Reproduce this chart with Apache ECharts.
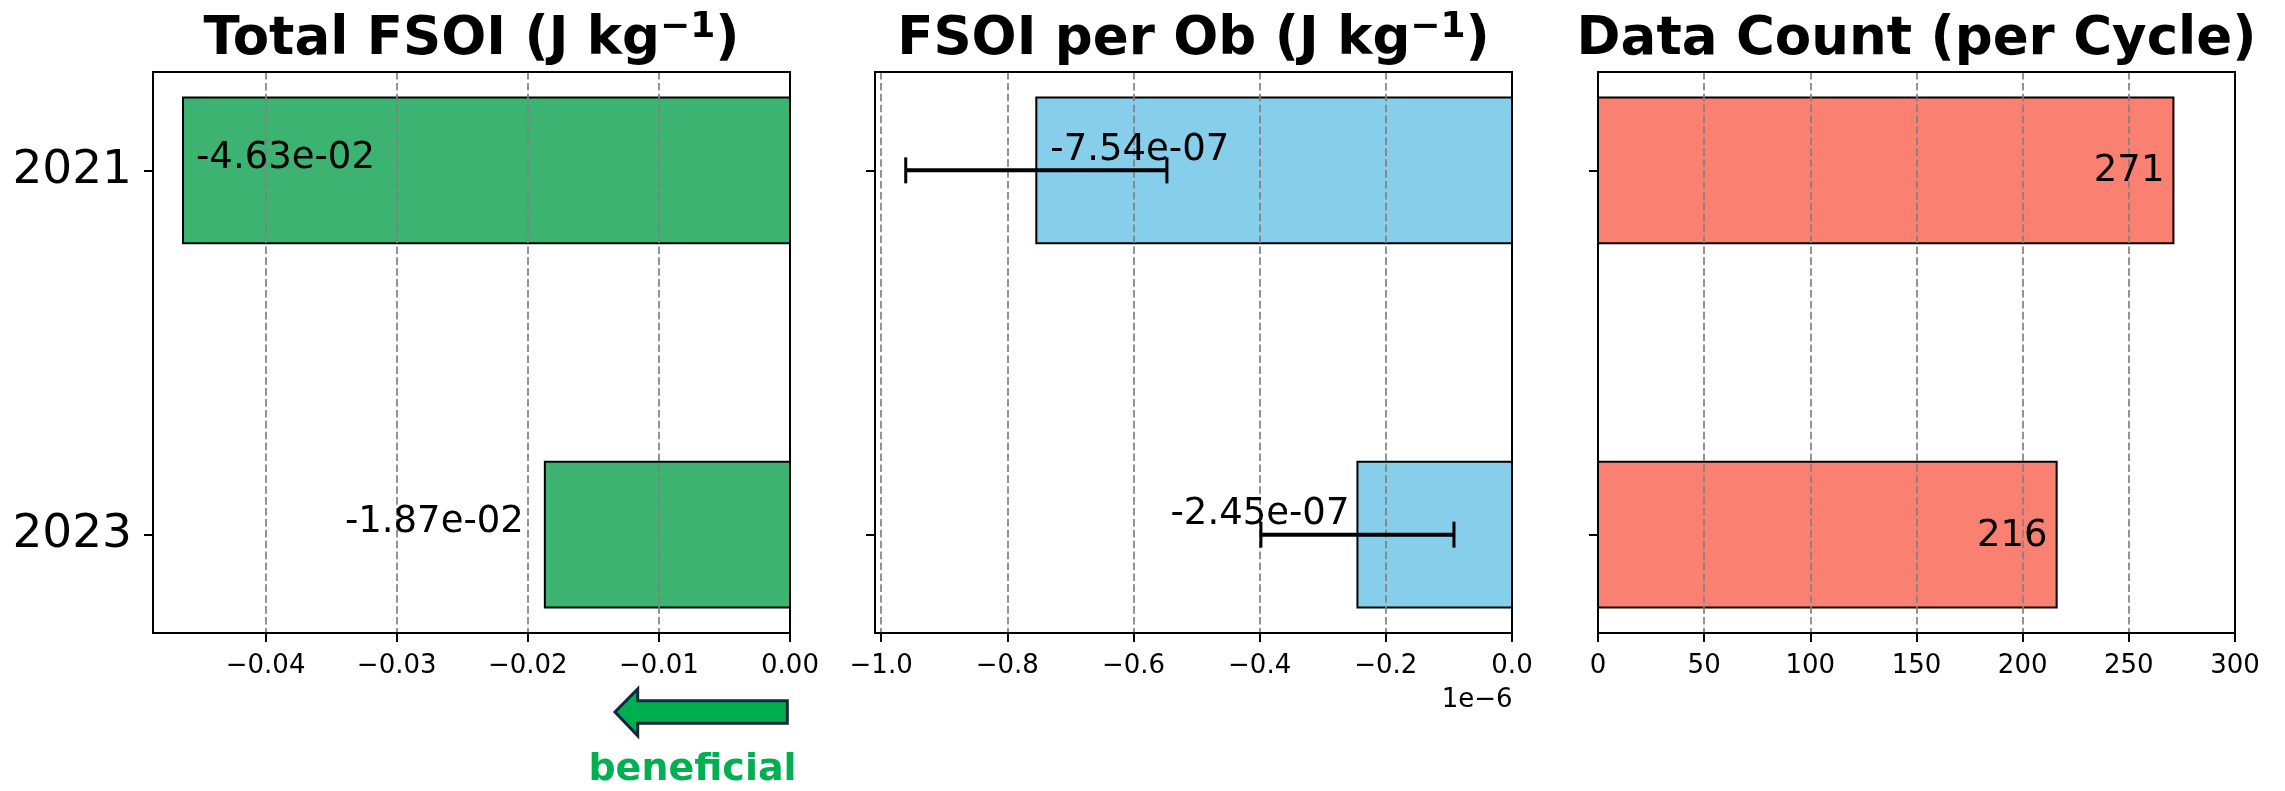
<!DOCTYPE html>
<html>
<head>
<meta charset="utf-8">
<script src="https://cdn.jsdelivr.net/npm/echarts@6/dist/echarts.min.js"></script>
<style>
  html, body { margin: 0; padding: 0; background: #ffffff; }
  #chart { width: 2285px; height: 791px; }
</style>
</head>
<body>
<div id="chart"></div>
<script>
// Observation impact summary for two campaign years
const years = ['2021', '2023'];
const yearPositions = [0, 1];
const totalFsoi = [-4.63e-2, -1.87e-2];          // J kg^-1
const fsoiPerOb = [-7.54e-7, -2.45e-7];          // J kg^-1
const fsoiPerObErr = [2.07e-7, 1.53e-7];         // J kg^-1
const dataCount = [271, 216];                    // obs per cycle
const totalFsoiTicks = [-0.04, -0.03, -0.02, -0.01, 0];
const perObTicks = [-1.0e-6, -0.8e-6, -0.6e-6, -0.4e-6, -0.2e-6, 0];
const countTicks = [0, 50, 100, 150, 200, 250, 300];

const FONT = 'DejaVu Sans';
const MINUS = '\u2212';
const BAR_HEIGHT = 0.4;          // in category units
const GRID_TOP = 72;
const GRID_W = 637;
const GRID_H = 561;

function expLabel(v) {
  return v.toExponential(2).replace(/e([+-])(\d)$/, 'e$10$2');
}
function withMinus(s) {
  return s.replace('-', MINUS);
}

const panels = [
  {
    title: '{m|Total FSOI (J kg}{s|' + MINUS + '1}{m|)}',
    values: totalFsoi, color: '#3CB371', left: 153,
    min: -0.04859, max: 0, ticks: totalFsoiTicks,
    tickFmt: v => (Math.abs(v) < 1e-12 ? '0.00' : withMinus(v.toFixed(2))),
    valueFmt: expLabel,
    labelIn: { dx: 13, dy: -12 }, labelOut: { dx: 21, dy: -12 }
  },
  {
    title: '{m|FSOI per Ob (J kg}{s|' + MINUS + '1}{m|)}',
    values: fsoiPerOb, errors: fsoiPerObErr, color: '#87CEEB', left: 875,
    min: -1.0097e-6, max: 0, ticks: perObTicks,
    tickFmt: v => (Math.abs(v) < 1e-12 ? '0.0' : withMinus((v / 1e-6).toFixed(1))),
    valueFmt: expLabel,
    labelIn: { dx: 14, dy: -20 }, labelOut: { dx: 8, dy: -20 }
  },
  {
    title: '{m|Data Count (per Cycle)}',
    values: dataCount, color: '#FA8072', left: 1598,
    min: 0, max: 300, ticks: countTicks,
    tickFmt: v => String(v),
    valueFmt: v => String(v),
    labelIn: { dx: 9, dy: 1.5 }, labelOut: { dx: 9, dy: 1.5 }
  }
];

const black = '#000000';
const grids = [], xAxes = [], yAxes = [], series = [], graphics = [];

panels.forEach((p, i) => {
  // frame drawn above the dashed grid so the spines stay solid
  grids.push({
    left: p.left, top: GRID_TOP, width: GRID_W, height: GRID_H, z: 4,
    show: true, borderColor: black, borderWidth: 2, backgroundColor: 'transparent'
  });

  xAxes.push({
    type: 'value', gridIndex: i, min: p.min, max: p.max, z: 3,
    axisLine: { show: true, onZero: false, lineStyle: { color: black, width: 2 } },
    axisTick: { show: true, customValues: p.ticks, length: 9, lineStyle: { color: black, width: 2 } },
    axisLabel: {
      show: true, customValues: p.ticks, formatter: p.tickFmt,
      fontSize: 26, fontFamily: FONT, color: black, margin: 20
    },
    splitLine: {
      show: true,
      lineStyle: { color: 'rgba(128,128,128,0.85)', width: 2, type: [7.6, 3.3] }
    }
  });

  yAxes.push({
    type: 'value', gridIndex: i, inverse: true, min: -0.27, max: 1.27,
    axisLine: { show: true, onZero: false, lineStyle: { color: black, width: 2 } },
    axisTick: { show: true, customValues: yearPositions, length: 9, lineStyle: { color: black, width: 2 } },
    axisLabel: {
      show: i === 0, customValues: yearPositions,
      formatter: v => years[Math.round(v)] || '',
      fontSize: 47, fontFamily: FONT, color: black, margin: 21,
      padding: [12, 0, 0, 0]
    },
    splitLine: { show: false }
  });

  const rows = p.values.map((v, k) => [v, yearPositions[k]]);

  // bars
  series.push({
    type: 'custom', xAxisIndex: i, yAxisIndex: i, z: 2, silent: true,
    data: rows, encode: { x: 0, y: 1 },
    renderItem: (params, api) => {
      const v = api.value(0), y = api.value(1);
      const a = api.coord([0, y]);
      const b = api.coord([v, y]);
      const h = api.size([0, BAR_HEIGHT])[1];
      return {
        type: 'rect',
        shape: { x: Math.min(a[0], b[0]), y: a[1] - h / 2, width: Math.abs(b[0] - a[0]), height: h },
        style: { fill: p.color, stroke: black, lineWidth: 2 }
      };
    }
  });

  // error bars
  if (p.errors) {
    const errRows = p.values.map((v, k) => [v, yearPositions[k], p.errors[k]]);
    series.push({
      type: 'custom', xAxisIndex: i, yAxisIndex: i, z: 5, silent: true,
      data: errRows, encode: { x: 0, y: 1 },
      renderItem: (params, api) => {
        const v = api.value(0), y = api.value(1), e = api.value(2);
        const lo = api.coord([v - e, y]);
        const hi = api.coord([v + e, y]);
        const cap = 13;
        const st = { stroke: black, lineWidth: 4 };
        const cst = { stroke: black, lineWidth: 3 };
        return {
          type: 'group',
          children: [
            { type: 'line', shape: { x1: lo[0], y1: lo[1], x2: hi[0], y2: hi[1] }, style: st },
            { type: 'line', shape: { x1: lo[0], y1: lo[1] - cap, x2: lo[0], y2: lo[1] + cap }, style: cst },
            { type: 'line', shape: { x1: hi[0], y1: hi[1] - cap, x2: hi[0], y2: hi[1] + cap }, style: cst }
          ]
        };
      }
    });
  }

  // value labels
  const span = Math.abs(p.max - p.min);
  series.push({
    type: 'custom', xAxisIndex: i, yAxisIndex: i, z: 6, silent: true,
    data: rows, encode: { x: 0, y: 1 },
    renderItem: (params, api) => {
      const v = api.value(0), y = api.value(1);
      const end = api.coord([v, y]);
      const dir = v < 0 ? -1 : 1;
      const inside = Math.abs(v) >= 0.5 * span;
      const cfg = inside ? p.labelIn : p.labelOut;
      let x, align;
      if (inside) {
        x = end[0] - dir * cfg.dx;
        align = dir < 0 ? 'left' : 'right';
      } else {
        x = end[0] + dir * cfg.dx;
        align = dir < 0 ? 'right' : 'left';
      }
      return {
        type: 'text',
        x: x, y: end[1] + cfg.dy,
        style: {
          text: p.valueFmt(p.values[params.dataIndex]),
          align: align, verticalAlign: 'middle',
          fontSize: 37, fontFamily: FONT, fill: black
        }
      };
    }
  });

  // panel title
  graphics.push({
    type: 'text', x: p.left + GRID_W / 2, y: 40, z: 10,
    style: {
      text: p.title, align: 'center', verticalAlign: 'middle',
      rich: {
        m: { fontSize: 53, fontWeight: 'bold', fontFamily: FONT, fill: black, lineHeight: 60 },
        s: { fontSize: 36, fontWeight: 'bold', fontFamily: FONT, fill: black, lineHeight: 33, verticalAlign: 'top' }
      }
    }
  });
});

// scale factor note under the per-ob axis
graphics.push({
  type: 'text', x: panels[1].left + GRID_W + 0.5, y: 700.5, z: 10,
  style: { text: '1e' + MINUS + '6', align: 'right', verticalAlign: 'middle', fontSize: 26, fontFamily: FONT, fill: black }
});

// "beneficial" direction arrow
graphics.push({
  type: 'polygon', z: 10,
  shape: {
    points: [
      [615, 712], [637.7, 689], [637.7, 700.7], [787.3, 700.7],
      [787.3, 723.3], [637.7, 723.3], [637.7, 735.7]
    ]
  },
  style: { fill: '#00B050', stroke: '#0E2841', lineWidth: 3, lineJoin: 'miter' }
});
graphics.push({
  type: 'text', x: 692.5, y: 770.5, z: 10,
  style: {
    text: 'beneficial', align: 'center', verticalAlign: 'middle',
    fontSize: 38, fontWeight: 'bold', fontFamily: FONT, fill: '#00B050'
  }
});

const chart = echarts.init(document.getElementById('chart'), null, { renderer: 'canvas' });
chart.setOption({
  animation: false,
  backgroundColor: '#ffffff',
  grid: grids,
  xAxis: xAxes,
  yAxis: yAxes,
  series: series,
  graphic: graphics
});
</script>
</body>
</html>
